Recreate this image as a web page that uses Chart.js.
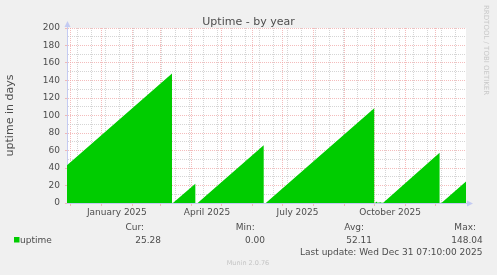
<!DOCTYPE html>
<html>
<head>
<meta charset="utf-8">
<script src="https://cdn.jsdelivr.net/npm/chart.js@4.4.1/dist/chart.umd.min.js"></script>
<style>
    html, body { margin: 0; padding: 0; background: #f0f0f0; }
    canvas { display: block; }
</style>
</head>
<body>
<canvas id="uptimeChart" width="497" height="275"></canvas>
<script>
// x values are days counted from 1 Jan 2025 00:00
const uptimeDays = [-34.3, 70.6, 70.6, 71.8, 93.9, 93.9, 96.2, 162.2, 162.2, 164.3, 272.6, 272.6,
    273.8, 273.9, 275.5, 275.6, 279.5, 279.6, 281.6, 337.9, 337.9, 340.0, 364.3];
const uptimeValues = [43.2, 148.04, 0, 0.3, 22.1, 0, 0, 66.0, 0, 0, 108.3, 0,
    0, 1.2, 1.4, 0.3, 1.0, 0.2, 0.3, 57.5, 0, 0.3, 24.6];

const monthStarts = [-31, 0, 31, 59, 90, 120, 151, 181, 212, 243, 273, 304, 334];
const minorDays = [-24, -10, 4, 18, 32, 46, 60, 74, 88, 102, 116, 130, 144, 158, 172, 186,
    200, 214, 228, 242, 256, 270, 284, 298, 312, 326, 340, 354];
const labelDays = [15.5, 105.5, 196, 288.5];
const labelTexts = ['January 2025', 'April 2025', 'July 2025', 'October 2025'];

const legendNames = ['Cur:', 'Min:', 'Avg:', 'Max:'];
const legendValues = ['25.28', '0.00', '52.11', '148.04'];

const RED = 'rgba(240, 165, 165, 0.75)';
const GRAY = 'rgba(195, 195, 195, 0.7)';
const NONE = 'rgba(0, 0, 0, 0)';
const AXIS = '#c4cbf2';
const TEXT = '#4d4d4d';
const FONT = "'DejaVu Sans', sans-serif";

Chart.defaults.font.family = FONT;
Chart.defaults.color = TEXT;

function xKind(v) {
    if (monthStarts.includes(v)) return 'major';
    if (minorDays.includes(v)) return 'minor';
    return 'label';
}

const decor = {
    id: 'decor',
    beforeDraw(chart) {
        const { ctx, chartArea: a } = chart;
        ctx.save();
        ctx.fillStyle = '#f0f0f0';
        ctx.fillRect(0, 0, chart.width, chart.height);
        ctx.fillStyle = '#ffffff';
        ctx.fillRect(a.left, a.top, a.right - a.left, a.bottom - a.top);
        ctx.restore();
    },
    afterDraw(chart) {
        const { ctx, chartArea: a } = chart;
        ctx.save();

        // axis arrows
        ctx.fillStyle = AXIS;
        ctx.strokeStyle = AXIS;
        ctx.lineWidth = 1;
        ctx.beginPath();
        ctx.moveTo(a.left + 0.5, a.top);
        ctx.lineTo(a.left + 0.5, a.top - 2);
        ctx.moveTo(a.right, a.bottom + 0.5);
        ctx.lineTo(a.right + 2, a.bottom + 0.5);
        ctx.stroke();
        ctx.beginPath();
        ctx.moveTo(a.left + 0.5, a.top - 7);
        ctx.lineTo(a.left - 2.5, a.top - 1);
        ctx.lineTo(a.left + 3.5, a.top - 1);
        ctx.closePath();
        ctx.fill();
        ctx.beginPath();
        ctx.moveTo(a.right + 7, a.bottom + 0.5);
        ctx.lineTo(a.right + 1, a.bottom - 2.5);
        ctx.lineTo(a.right + 1, a.bottom + 3.5);
        ctx.closePath();
        ctx.fill();

        // title
        ctx.fillStyle = TEXT;
        ctx.font = '11px ' + FONT;
        ctx.textAlign = 'center';
        ctx.textBaseline = 'alphabetic';
        ctx.fillText('Uptime - by year', 248.5, 25);

        // y axis title
        ctx.save();
        ctx.translate(12.5, 115.5);
        ctx.rotate(-Math.PI / 2);
        ctx.fillText('uptime in days', 0, 0);
        ctx.restore();

        // watermark
        ctx.save();
        ctx.fillStyle = '#c8c8c8';
        ctx.font = '7px ' + FONT;
        ctx.textAlign = 'left';
        ctx.translate(483.5, 5);
        ctx.rotate(Math.PI / 2);
        ctx.fillText('RRDTOOL / TOBI OETIKER', 0, 0);
        ctx.restore();

        // legend
        ctx.font = '9px ' + FONT;
        ctx.fillStyle = '#00cc00';
        ctx.fillRect(14, 237, 5.5, 5.5);
        ctx.fillStyle = TEXT;
        ctx.textAlign = 'left';
        ctx.fillText('uptime', 20, 242.5);

        const nameRight = [144, 254.7, 364, 476];
        const valueRight = [161, 265, 372, 482.7];
        ctx.textAlign = 'right';
        legendNames.forEach((n, i) => {
            ctx.fillText(n, nameRight[i], 230.3);
            ctx.fillText(legendValues[i], valueRight[i], 243);
        });
        ctx.fillText('Last update: Wed Dec 31 07:10:00 2025', 482.5, 254.5);

        ctx.fillStyle = '#c4c4c4';
        ctx.font = '6.5px ' + FONT;
        ctx.textAlign = 'center';
        ctx.fillText('Munin 2.0.76', 248, 265);

        ctx.restore();
    }
};

const points = uptimeDays.map((d, i) => ({ x: d, y: uptimeValues[i] }));

new Chart(document.getElementById('uptimeChart'), {
    type: 'line',
    data: {
        datasets: [{
            label: 'uptime',
            data: points,
            backgroundColor: '#00cc00',
            borderColor: NONE,
            borderWidth: 0,
            pointRadius: 0,
            tension: 0,
            fill: 'origin'
        }]
    },
    options: {
        responsive: false,
        animation: false,
        layout: { padding: { top: 28, right: 31, left: 0, bottom: 0 } },
        plugins: {
            legend: { display: false },
            tooltip: { enabled: false },
            title: { display: false }
        },
        scales: {
            x: {
                type: 'linear',
                min: -34.3,
                max: 364.3,
                z: 1,
                afterFit: (scale) => { scale.height = 72; },
                afterBuildTicks: (scale) => {
                    const all = monthStarts.concat(minorDays, labelDays).sort((a, b) => a - b);
                    scale.ticks = all.map(v => ({ value: v }));
                },
                ticks: {
                    autoSkip: false,
                    maxRotation: 0,
                    padding: 1,
                    font: { size: 9 },
                    color: TEXT,
                    callback: (v) => {
                        const i = labelDays.indexOf(v);
                        return i >= 0 ? labelTexts[i] : '';
                    }
                },
                grid: {
                    color: (c) => {
                        if (!c.tick) return NONE;
                        const k = xKind(c.tick.value);
                        return k === 'major' ? RED : (k === 'minor' ? GRAY : NONE);
                    },
                    tickColor: (c) => (c.tick && xKind(c.tick.value) === 'major') ? RED : NONE,
                    tickLength: 3,
                    lineWidth: 1
                },
                border: {
                    color: AXIS,
                    width: 1,
                    dash: (c) => c.tick ? [1, 1] : []
                }
            },
            y: {
                min: 0,
                max: 200,
                z: 1,
                afterFit: (scale) => { scale.width = 67; },
                ticks: {
                    stepSize: 10,
                    autoSkip: false,
                    padding: 5,
                    font: { size: 9 },
                    color: TEXT,
                    callback: (v) => (v % 20 === 0 ? String(v) : '')
                },
                grid: {
                    color: (c) => (c.tick && c.tick.value % 20 === 0) ? RED : GRAY,
                    tickColor: (c) => (c.tick && c.tick.value % 20 === 0) ? RED : NONE,
                    tickLength: 2,
                    lineWidth: 1
                },
                border: {
                    color: AXIS,
                    width: 1,
                    dash: (c) => c.tick ? [1, 1] : []
                }
            }
        }
    },
    plugins: [decor]
});
</script>
</body>
</html>
